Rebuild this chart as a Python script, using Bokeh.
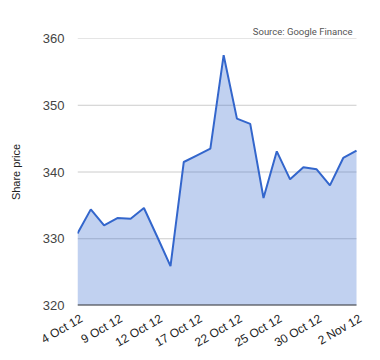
from bokeh.plotting import figure
from bokeh.models import Range1d, FixedTicker, Title
from bokeh.embed import file_html
from bokeh.resources import INLINE
import math

dates = ["4 Oct 12", "5 Oct 12", "8 Oct 12", "9 Oct 12", "10 Oct 12", "11 Oct 12",
         "12 Oct 12", "15 Oct 12", "16 Oct 12", "17 Oct 12", "18 Oct 12", "19 Oct 12",
         "22 Oct 12", "23 Oct 12", "24 Oct 12", "25 Oct 12", "26 Oct 12", "29 Oct 12",
         "30 Oct 12", "31 Oct 12", "1 Nov 12", "2 Nov 12"]
prices = [330.8, 334.4, 332.0, 333.1, 333.0, 334.6, 330.3, 325.9, 341.5, 342.5, 343.5,
          357.5, 348.0, 347.2, 336.1, 343.1, 338.9, 340.7, 340.4, 338.0, 342.1, 343.2]
y_ticks = [320, 330, 340, 350, 360]
label_every = 3

idx = list(range(len(dates)))
last = len(dates) - 1
FONT = "Liberation Sans"

# labels hang from their end, slightly right of each point
shift = 0.3

p = figure(width=380, height=360, output_backend="svg", toolbar_location=None,
           x_range=Range1d(0, last + shift), y_range=Range1d(y_ticks[0], y_ticks[-1]),
           min_border_left=77, min_border_right=20, min_border_top=38, min_border_bottom=55)
p.outline_line_color = None
p.background_fill_color = "white"

# horizontal grid lines spanning the data
grid_y = y_ticks[1:]
p.segment(x0=[0] * len(grid_y), x1=[last] * len(grid_y), y0=grid_y, y1=grid_y,
          line_color="#cccccc", line_width=1)

p.varea(x=idx, y1=[y_ticks[0]] * len(idx), y2=prices, fill_color="#3366cc", fill_alpha=0.3)
p.line(x=idx, y=prices, line_color="#3366cc", line_width=2)

# baseline
p.segment(x0=[0], x1=[last], y0=[y_ticks[0]], y1=[y_ticks[0]],
          line_color="#333333", line_width=2)

p.xgrid.visible = False
p.ygrid.visible = False

label_pos = [i + shift for i in idx[::label_every]]
xa = p.xaxis[0]
xa.ticker = FixedTicker(ticks=label_pos)
xa.major_label_overrides = {i + shift: dates[i] for i in idx[::label_every]}
xa.major_label_orientation = math.pi / 6
xa.major_tick_line_color = None
xa.minor_tick_line_color = None
xa.major_tick_out = 0
xa.major_tick_in = 0
xa.axis_line_color = None
xa.major_label_text_font = FONT
xa.major_label_text_font_size = "12px"
xa.major_label_text_color = "#222222"
xa.major_label_standoff = 12

ya = p.yaxis[0]
ya.ticker = FixedTicker(ticks=y_ticks)
ya.axis_line_color = None
ya.major_tick_line_color = None
ya.minor_tick_line_color = None
ya.major_tick_out = 0
ya.major_tick_in = 0
ya.major_label_text_font = FONT
ya.major_label_text_font_size = "13px"
ya.major_label_text_color = "#444444"
ya.major_label_standoff = 13
ya.axis_label = "Share price"
ya.axis_label_text_font = FONT
ya.axis_label_text_font_size = "11px"
ya.axis_label_text_font_style = "normal"
ya.axis_label_text_color = "#222222"
ya.axis_label_standoff = 18

src = Title(text="Source: Google Finance", align="right", offset=8, standoff=4,
            text_font="Roboto", text_font_size="9.5px", text_color="#555555",
            text_font_style="normal")
p.add_layout(src, "above")

open("out.html", "w").write(file_html(p, INLINE))
